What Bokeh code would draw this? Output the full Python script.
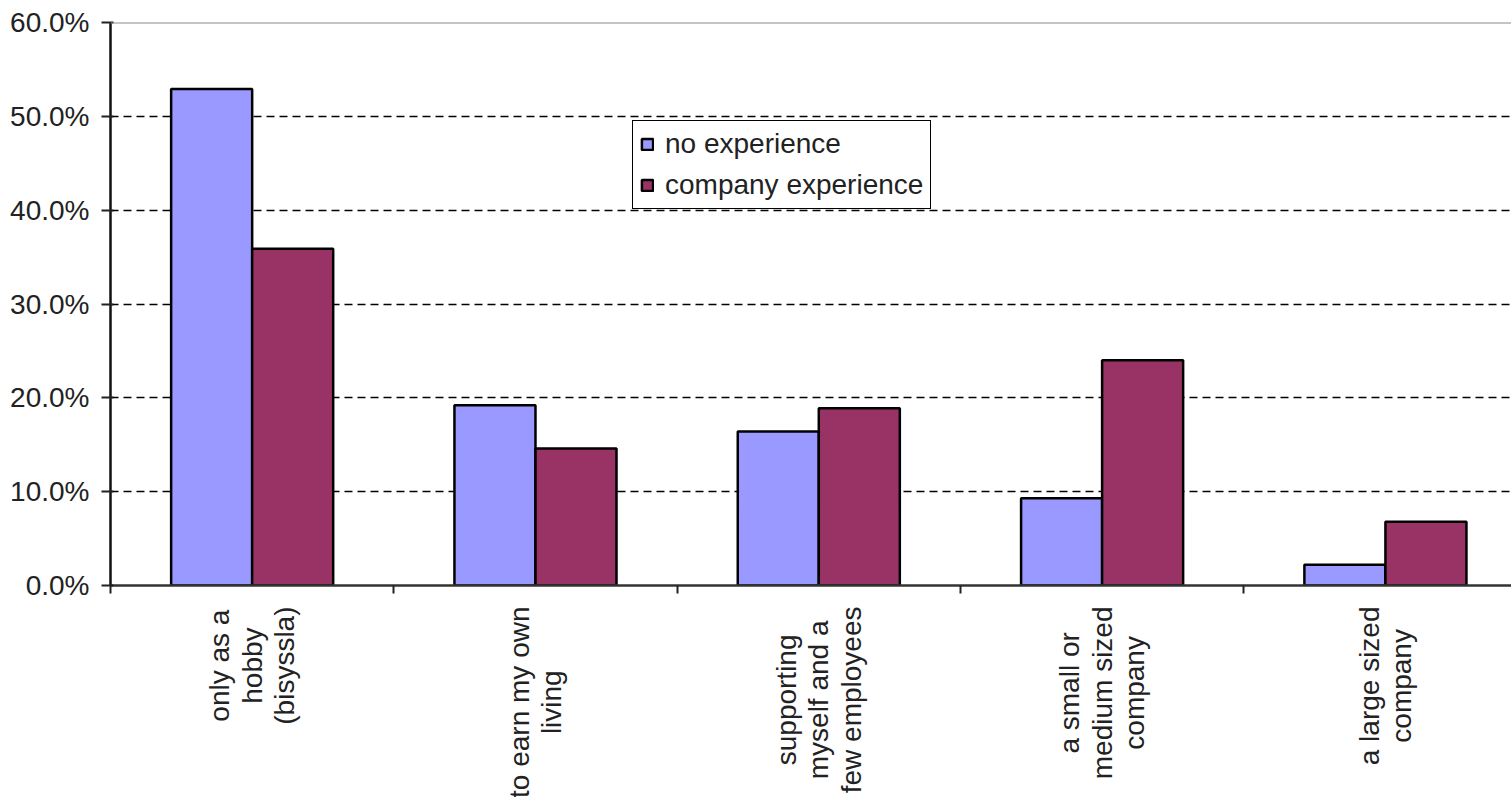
import math
import numpy as np
from bokeh.plotting import figure
from bokeh.layouts import column
from bokeh.models import (ColumnDataSource, Range1d, FixedTicker, PrintfTickFormatter,
                          Legend, LegendItem, Span)
from bokeh.core.properties import value
from bokeh.embed import file_html
from bokeh.resources import INLINE

categories = [
    "only as a\nhobby\n(bisyssla)",
    "to earn my own\nliving",
    "supporting\nmyself and a\nfew employees",
    "a small or\nmedium sized\ncompany",
    "a large sized\ncompany",
]
no_experience = [52.9, 19.2, 16.4, 9.3, 2.2]
company_experience = [35.9, 14.6, 18.9, 24.0, 6.8]
y_ticks = [0, 10, 20, 30, 40, 50, 60]

FONT = "Liberation Sans"
FS = "28px"
BAR_W = 0.286
W = 1511
MAIN_H = 605
LAB_H = 192

idx = np.arange(len(categories))
centers = idx + 0.5
src = ColumnDataSource(dict(
    x_no=centers - BAR_W / 2,
    x_co=centers + BAR_W / 2,
    no=no_experience,
    co=company_experience,
))

p = figure(width=W, height=MAIN_H, x_range=Range1d(0, 4.945), y_range=Range1d(0, 60),
           output_backend="svg", toolbar_location=None,
           min_border_left=110, min_border_top=22, min_border_right=0, min_border_bottom=20)
p.outline_line_color = None
p.background_fill_color = "white"
p.border_fill_color = "white"

r1 = p.vbar(x="x_no", top="no", width=BAR_W, source=src, fill_color="#9999FF",
            line_color="black", line_width=2.5)
r2 = p.vbar(x="x_co", top="co", width=BAR_W, source=src, fill_color="#993366",
            line_color="black", line_width=2.5)

# grid
p.xgrid.visible = False
p.ygrid.ticker = FixedTicker(ticks=y_ticks[1:-1])
p.ygrid.grid_line_color = "black"
p.ygrid.grid_line_dash = "8 5"
p.ygrid.grid_line_width = 1.3
p.ygrid.level = "underlay"

p.add_layout(Span(location=y_ticks[-1], dimension="width", line_color="#8a8a8a", line_width=2))

# y axis
yax = p.yaxis[0]
yax.ticker = FixedTicker(ticks=y_ticks)
yax.formatter = PrintfTickFormatter(format="%.1f%%")
yax.major_label_text_font = FONT
yax.major_label_text_font_size = FS
yax.major_label_text_color = "#222222"
yax.major_tick_in = 3
yax.major_tick_out = 9
yax.major_tick_line_width = 2
yax.major_tick_line_color = "#222222"
yax.minor_tick_line_color = None
yax.axis_line_width = 2.5
yax.axis_line_color = "#111111"
yax.major_label_standoff = 12

# x axis: boundary ticks only
xax = p.xaxis[0]
xax.ticker = FixedTicker(ticks=[], minor_ticks=list(idx) + [len(categories)])
xax.major_tick_line_color = None
xax.minor_tick_out = 8
xax.minor_tick_in = 0
xax.minor_tick_line_width = 2
xax.minor_tick_line_color = "#222222"
xax.axis_line_width = 2.5
xax.axis_line_color = "#333333"

legend = Legend(items=[LegendItem(label="no experience", renderers=[r1]),
                       LegendItem(label="company experience", renderers=[r2])],
                location=(522, 376))
legend.label_text_font = FONT
legend.label_text_font_size = FS
legend.label_text_color = "#222222"
legend.glyph_width = 14
legend.glyph_height = 14
legend.label_height = 32
legend.label_standoff = 11
legend.spacing = 9
legend.padding = 7
legend.margin = 0
legend.border_line_color = "black"
legend.border_line_alpha = 1.0
legend.border_line_width = 1.5
legend.background_fill_color = "white"
legend.background_fill_alpha = 1
p.add_layout(legend, "center")

# category labels: rotated, multi-line, centred lines, anchored near the axis
p2 = figure(width=W, height=LAB_H, x_range=p.x_range, y_range=Range1d(0, LAB_H),
            output_backend="svg", toolbar_location=None,
            min_border_left=110, min_border_top=0, min_border_right=0, min_border_bottom=0)
p2.axis.visible = False
p2.grid.visible = False
p2.outline_line_color = None
p2.background_fill_color = "white"
p2.border_fill_color = "white"
lab_src = ColumnDataSource(dict(x=centers, y=[LAB_H - 1] * len(categories), text=categories))
p2.text(x="x", y="y", text="text", source=lab_src, angle=math.pi / 2,
        anchor=value("center_right"), text_align="center",
        text_font=value(FONT), text_font_size=value(FS), text_color="#222222",
        text_line_height=1.05)

open("out.html", "w").write(file_html(column(p, p2, spacing=0), INLINE))
